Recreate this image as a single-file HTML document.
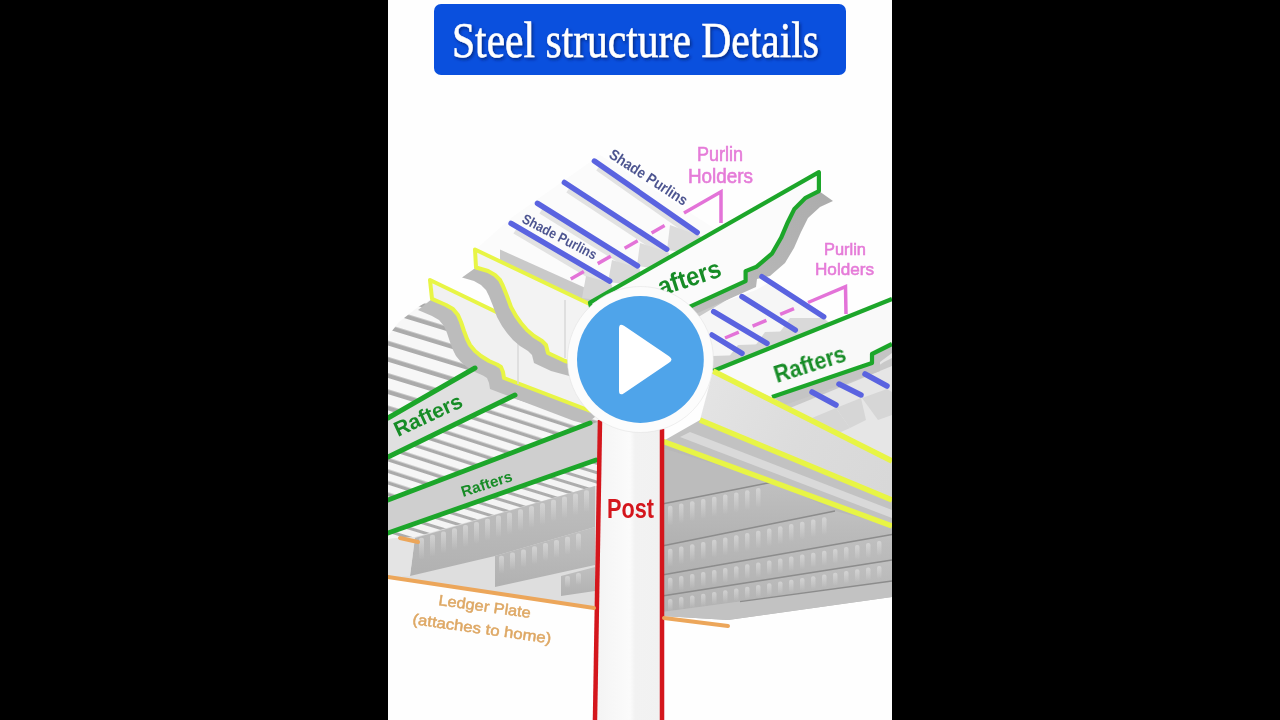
<!DOCTYPE html>
<html><head><meta charset="utf-8">
<style>
html,body{margin:0;padding:0;background:#000;width:1280px;height:720px;overflow:hidden;}
svg{display:block;}
text{font-family:"Liberation Sans",sans-serif;}
</style></head>
<body>
<svg width="1280" height="720" viewBox="0 0 1280 720">
<defs>
  <pattern id="stripesA" patternUnits="userSpaceOnUse" width="80" height="15.5" patternTransform="rotate(17)">
    <rect width="80" height="15.5" fill="#f7f7f7"/>
    <rect y="11" width="80" height="4.5" fill="#ababab"/>
  </pattern>
  <pattern id="stripesB" patternUnits="userSpaceOnUse" width="80" height="11" patternTransform="rotate(18)">
    <rect width="80" height="11" fill="#f6f6f6"/>
    <rect y="7.5" width="80" height="3.5" fill="#aaaaaa"/>
  </pattern>
  <pattern id="stripesC" patternUnits="userSpaceOnUse" width="80" height="9" patternTransform="rotate(17)">
    <rect width="80" height="9" fill="#f4f4f4"/>
    <rect y="6" width="80" height="3" fill="#adadad"/>
  </pattern>
  <linearGradient id="postg" x1="0" x2="1" y1="0" y2="0">
    <stop offset="0" stop-color="#f4f4f4"/>
    <stop offset="0.5" stop-color="#fbfbfb"/>
    <stop offset="0.58" stop-color="#f2f2f2"/>
    <stop offset="1" stop-color="#f1f1f1"/>
  </linearGradient>
  <linearGradient id="bandg" x1="0" x2="0" y1="0" y2="1">
    <stop offset="0" stop-color="#c0c0c0"/>
    <stop offset="1" stop-color="#b1b1b1"/>
  </linearGradient>
  <linearGradient id="raf1ext" x1="1" x2="0" y1="0" y2="1">
    <stop offset="0" stop-color="#acacac"/>
    <stop offset="0.5" stop-color="#b8b8b8"/>
    <stop offset="1" stop-color="#cacaca"/>
  </linearGradient>
  <filter id="tshadow" x="-10%" y="-30%" width="120%" height="160%">
    <feDropShadow dx="1.5" dy="2" stdDeviation="1.5" flood-color="#001a60" flood-opacity="0.7"/>
  </filter>
  <linearGradient id="streak" x1="0" x2="0" y1="0" y2="1">
    <stop offset="0" stop-color="#e2e2e2" stop-opacity="0.6"/>
    <stop offset="1" stop-color="#e6e6e6" stop-opacity="0"/>
  </linearGradient>
  <linearGradient id="beamtop" gradientUnits="userSpaceOnUse" x1="700" y1="400" x2="892" y2="480">
    <stop offset="0" stop-color="#e4e4e4"/>
    <stop offset="0.5" stop-color="#dcdcdc"/>
    <stop offset="1" stop-color="#d8d8d8"/>
  </linearGradient>
  <filter id="blur1" x="380" y="0" width="520" height="720" filterUnits="userSpaceOnUse"><feGaussianBlur stdDeviation="0.55"/></filter>
  <clipPath id="panel"><rect x="388" y="0" width="504" height="720"/></clipPath>
</defs>
<rect x="0" y="0" width="1280" height="720" fill="#000"/>
<rect x="388" y="0" width="504" height="720" fill="#fefefe"/>
<g clip-path="url(#panel)"><g filter="url(#blur1)">

<!-- ===== LEFT underside ===== -->
<polygon points="388,336 399,322 418,307 430,300 520,340 600,392 600,610 388,577" fill="url(#stripesA)"/>
<polygon points="388,457 515,395 600,430 600,470 388,540" fill="url(#stripesB)"/>
<polygon points="388,533 600,459 600,500 388,560" fill="url(#stripesC)"/>
<!-- lower gray underside bands near ledger -->
<polygon points="388,539 415,537 595,486 600,486 600,610 388,578" fill="#dedede"/>
<polygon points="415,538 595,486 595,527 495,556 410,576" fill="url(#bandg)"/>
<polygon points="495,556 595,527 595,565 495,587" fill="url(#bandg)"/>
<polygon points="561,576 595,567 595,591 561,596" fill="url(#bandg)"/>
<polygon points="388,539 415,537 410,576 388,577" fill="#e4e4e4"/>
<g fill="url(#streak)">
<rect x="419.0" y="537.8" width="5" height="22" rx="2"/>
<rect x="430.0" y="534.7" width="5" height="22" rx="2"/>
<rect x="441.0" y="531.5" width="5" height="22" rx="2"/>
<rect x="452.0" y="528.3" width="5" height="22" rx="2"/>
<rect x="463.0" y="525.1" width="5" height="22" rx="2"/>
<rect x="474.0" y="522.0" width="5" height="22" rx="2"/>
<rect x="485.0" y="518.8" width="5" height="22" rx="2"/>
<rect x="496.0" y="515.6" width="5" height="22" rx="2"/>
<rect x="507.0" y="512.4" width="5" height="22" rx="2"/>
<rect x="518.0" y="509.2" width="5" height="22" rx="2"/>
<rect x="529.0" y="506.1" width="5" height="22" rx="2"/>
<rect x="540.0" y="502.9" width="5" height="22" rx="2"/>
<rect x="551.0" y="499.7" width="5" height="22" rx="2"/>
<rect x="562.0" y="496.5" width="5" height="22" rx="2"/>
<rect x="573.0" y="493.4" width="5" height="22" rx="2"/>
<rect x="584.0" y="490.2" width="5" height="22" rx="2"/>
<rect x="499.0" y="555.8" width="5" height="18" rx="2"/>
<rect x="510.0" y="552.6" width="5" height="18" rx="2"/>
<rect x="521.0" y="549.5" width="5" height="18" rx="2"/>
<rect x="532.0" y="546.3" width="5" height="18" rx="2"/>
<rect x="543.0" y="543.1" width="5" height="18" rx="2"/>
<rect x="554.0" y="539.9" width="5" height="18" rx="2"/>
<rect x="565.0" y="536.7" width="5" height="18" rx="2"/>
<rect x="576.0" y="533.5" width="5" height="18" rx="2"/>
<rect x="565.0" y="575.9" width="5" height="12" rx="2"/>
<rect x="576.0" y="573.0" width="5" height="12" rx="2"/>
</g>

<!-- rafter faces left -->
<polygon points="388,418 478,366 518,392 388,457" fill="#e0e0e0"/>
<polygon points="388,500 600,421 600,458 388,533" fill="#cfcfcf"/>

<!-- ===== Upper purlins zone A ===== -->
<polygon points="475,250 511,218 600,155 720,232 590,305" fill="#fbfbfb"/>
<polygon points="500,249.5 590,290 600,309 500,261.7" fill="#c9c9c9"/>
<g stroke="#e2e2e2" stroke-width="6" fill="none">
  <line x1="598" y1="168" x2="699" y2="239"/>
  <line x1="568" y1="190" x2="668" y2="256"/>
  <line x1="541" y1="211" x2="639" y2="272"/>
  <line x1="515" y1="231" x2="611" y2="288"/>
</g>
<polygon points="670,225 700,236 704,245 682,252 667,250" fill="#dcdcdc"/>
<polygon points="640,243 668,252 672,262 652,268 637,266" fill="#dcdcdc"/>
<polygon points="612,260 639,268 643,279 624,284 608,282" fill="#d9d9d9"/>
<polygon points="586,276 611,283 614,294 596,300 582,298" fill="#d6d6d6"/>

<!-- ===== Beam ends (left) ===== -->
<polygon points="432,298.9 446,305 453,309 458,315 461,322 464,331 467,339 470,345 475,351 481,356 489,361 497,364.5 501,367 503,372 504,378 588,410 600,413 586,424 574,421 490,389 489,383 487,378 483,375.5 475,372 467,367 461,362 456,356 453,350 450,342 447,333 444,326 439,320 432,316 418,309.9" fill="#bcbcbc"/>
<polygon points="430,280 600,362 600,413 588,410 504,378 503,372 501,367 497,364.5 489,361 481,356 475,351 470,345 467,339 464,331 461,322 458,315 453,309 446,305 432,298.9" fill="#f1f1f1" stroke="#e8f545" stroke-width="4" stroke-linejoin="round"/>
<line x1="518" y1="342" x2="518" y2="384" stroke="#d8d8d8" stroke-width="1.5"/>
<polygon points="476,267.5 488,271 495,275 500,280 503,286 507,296 511,307 516,316 521,323 527,330 534,336 542,341 546,345 548,353 565,361 587,367 600,375 586,385 573,377 551,371 534,363 532,355 528,351 520,346 513,340 507,333 502,326 497,317 493,306 489,296 486,290 481,285 474,281 462,277.5" fill="#bababa"/>
<polygon points="475,249.5 600,309 600,375 587,367 565,361 548,353 546,345 542,341 534,336 527,330 521,323 516,316 511,307 507,296 503,286 500,280 495,275 488,271 476,267.5" fill="#f3f3f3" stroke="#e8f545" stroke-width="4" stroke-linejoin="round"/>
<line x1="565" y1="300" x2="565" y2="358" stroke="#d8d8d8" stroke-width="1.5"/>

<!-- ===== Zone C (purlins between rafter1 and rafter2) ===== -->
<polygon points="600,348 756,290 770,282 830,322 846,316 892,299 713,371 660,395" fill="#f6f6f6"/>
<polygon points="600,348 690,307 745.6,281.1 752,285 700,316 610,356" fill="#c9c9c9"/>
<polygon points="790,318 824,318 832,326 800,338 780,332" fill="#d9d9d9"/>
<polygon points="765,332 796,331 804,340 772,352 755,346" fill="#d7d7d7"/>
<polygon points="738,345 768,344 776,353 746,364 728,358" fill="#d5d5d5"/>
<polygon points="712,356 742,355 748,364 722,372 704,368" fill="#d3d3d3"/>
<!-- Zone E under rafter 2 -->
<polygon points="713,371 772,397 872,363 892,352 892,461" fill="#e6e6e6"/>
<polygon points="780,402 872,370 884,362 892,358 892,366 790,408" fill="#c9c9c9"/>
<polygon points="836,408 861,398 866,420 850,428" fill="#d6d6d6"/>
<polygon points="862,398 887,389 892,392 892,415 878,420" fill="#d6d6d6"/>
<polygon points="812,418 836,408 850,428 832,436" fill="#d6d6d6"/>

<!-- ===== Rafter 1 ===== -->
<polygon points="818.9,191.1 805.6,197.8 794.4,208.9 787.8,222.2 781.1,237.8 772.2,253.3 756.7,266.7 745.6,271.1 745.6,281.1 690,306.7 600,348 602,355 700,312 756,287 757,279 770,276 785,263 794,248 801,232 808,218 820,207 833,201" fill="url(#raf1ext)"/>
<polygon points="818.9,172.2 818.9,191.1 805.6,197.8 794.4,208.9 787.8,222.2 781.1,237.8 772.2,253.3 756.7,266.7 745.6,271.1 745.6,281.1 690,306.7 600,348 590,302.5" fill="#fbfbfb" stroke="#1ea62a" stroke-width="4.2" stroke-linejoin="round"/>

<!-- ===== Rafter 2 ===== -->
<polygon points="772,397 872,363 872,354 892,344 892,353 880,362 880,371 785,405" fill="#c4c4c4"/>
<polygon points="713,371 892,299 892,344 872,354 872,363 772,397" fill="#f9f9f9"/>
<polyline points="713,371 892,299" fill="none" stroke="#1ea62a" stroke-width="4.2"/>
<polyline points="892,344 872,354 872,363 772,397" fill="none" stroke="#1ea62a" stroke-width="4.2" stroke-linejoin="round"/>

<!-- ===== Beam sides right ===== -->
<polygon points="713,371 892,461 892,500 700,420" fill="url(#beamtop)"/>
<polygon points="700,420 892,500 892,527 665,440" fill="#c2c2c2"/>
<polygon points="690,432 892,510 892,518 680,437" fill="#d9d9d9"/>

<!-- ===== RIGHT underside ===== -->
<polygon points="662,441 892,526 892,597 728,620 662,616" fill="#b8b8b8"/>
<polygon points="662,448 773,482 662,504" fill="#bcbcbc"/>
<polygon points="662,504 773,482 835,511 662,546" fill="url(#bandg)"/>
<polygon points="662,546 835,511 892,526 892,534.5 662,575" fill="url(#bandg)"/>
<polygon points="662,575 892,534.5 892,560 662,596" fill="url(#bandg)"/>
<polygon points="662,596 892,560 892,581 662,612" fill="url(#bandg)"/>
<polygon points="662,612 892,581 892,597 728,620 662,616" fill="#c2c2c2"/>
<g fill="url(#streak)">
<rect x="668.0" y="505.7" width="4.5" height="20" rx="2"/>
<rect x="679.0" y="503.5" width="4.5" height="20" rx="2"/>
<rect x="690.0" y="501.3" width="4.5" height="20" rx="2"/>
<rect x="701.0" y="499.0" width="4.5" height="20" rx="2"/>
<rect x="712.0" y="496.8" width="4.5" height="20" rx="2"/>
<rect x="723.0" y="494.6" width="4.5" height="20" rx="2"/>
<rect x="734.0" y="492.4" width="4.5" height="20" rx="2"/>
<rect x="745.0" y="490.2" width="4.5" height="20" rx="2"/>
<rect x="756.0" y="487.9" width="4.5" height="20" rx="2"/>
<rect x="668.0" y="548.7" width="4.5" height="18" rx="2"/>
<rect x="679.0" y="546.4" width="4.5" height="18" rx="2"/>
<rect x="690.0" y="544.2" width="4.5" height="18" rx="2"/>
<rect x="701.0" y="541.9" width="4.5" height="18" rx="2"/>
<rect x="712.0" y="539.7" width="4.5" height="18" rx="2"/>
<rect x="723.0" y="537.4" width="4.5" height="18" rx="2"/>
<rect x="734.0" y="535.2" width="4.5" height="18" rx="2"/>
<rect x="745.0" y="532.9" width="4.5" height="18" rx="2"/>
<rect x="756.0" y="530.7" width="4.5" height="18" rx="2"/>
<rect x="767.0" y="528.4" width="4.5" height="18" rx="2"/>
<rect x="778.0" y="526.2" width="4.5" height="18" rx="2"/>
<rect x="789.0" y="523.9" width="4.5" height="18" rx="2"/>
<rect x="800.0" y="521.7" width="4.5" height="18" rx="2"/>
<rect x="811.0" y="519.4" width="4.5" height="18" rx="2"/>
<rect x="822.0" y="517.2" width="4.5" height="18" rx="2"/>
<rect x="668.0" y="577.8" width="4.5" height="15" rx="2"/>
<rect x="679.0" y="575.9" width="4.5" height="15" rx="2"/>
<rect x="690.0" y="573.9" width="4.5" height="15" rx="2"/>
<rect x="701.0" y="572.0" width="4.5" height="15" rx="2"/>
<rect x="712.0" y="570.1" width="4.5" height="15" rx="2"/>
<rect x="723.0" y="568.1" width="4.5" height="15" rx="2"/>
<rect x="734.0" y="566.2" width="4.5" height="15" rx="2"/>
<rect x="745.0" y="564.3" width="4.5" height="15" rx="2"/>
<rect x="756.0" y="562.4" width="4.5" height="15" rx="2"/>
<rect x="767.0" y="560.4" width="4.5" height="15" rx="2"/>
<rect x="778.0" y="558.5" width="4.5" height="15" rx="2"/>
<rect x="789.0" y="556.6" width="4.5" height="15" rx="2"/>
<rect x="800.0" y="554.6" width="4.5" height="15" rx="2"/>
<rect x="811.0" y="552.7" width="4.5" height="15" rx="2"/>
<rect x="822.0" y="550.8" width="4.5" height="15" rx="2"/>
<rect x="833.0" y="548.9" width="4.5" height="15" rx="2"/>
<rect x="844.0" y="546.9" width="4.5" height="15" rx="2"/>
<rect x="855.0" y="545.0" width="4.5" height="15" rx="2"/>
<rect x="866.0" y="543.1" width="4.5" height="15" rx="2"/>
<rect x="877.0" y="541.1" width="4.5" height="15" rx="2"/>
<rect x="668.0" y="598.9" width="4.5" height="13" rx="2"/>
<rect x="679.0" y="597.1" width="4.5" height="13" rx="2"/>
<rect x="690.0" y="595.4" width="4.5" height="13" rx="2"/>
<rect x="701.0" y="593.7" width="4.5" height="13" rx="2"/>
<rect x="712.0" y="591.9" width="4.5" height="13" rx="2"/>
<rect x="723.0" y="590.2" width="4.5" height="13" rx="2"/>
<rect x="734.0" y="588.4" width="4.5" height="13" rx="2"/>
<rect x="745.0" y="586.7" width="4.5" height="13" rx="2"/>
<rect x="756.0" y="585.0" width="4.5" height="13" rx="2"/>
<rect x="767.0" y="583.2" width="4.5" height="13" rx="2"/>
<rect x="778.0" y="581.5" width="4.5" height="13" rx="2"/>
<rect x="789.0" y="579.8" width="4.5" height="13" rx="2"/>
<rect x="800.0" y="578.0" width="4.5" height="13" rx="2"/>
<rect x="811.0" y="576.3" width="4.5" height="13" rx="2"/>
<rect x="822.0" y="574.6" width="4.5" height="13" rx="2"/>
<rect x="833.0" y="572.8" width="4.5" height="13" rx="2"/>
<rect x="844.0" y="571.1" width="4.5" height="13" rx="2"/>
<rect x="855.0" y="569.3" width="4.5" height="13" rx="2"/>
<rect x="866.0" y="567.6" width="4.5" height="13" rx="2"/>
<rect x="877.0" y="565.9" width="4.5" height="13" rx="2"/>
</g>
<g stroke="#8c8c8c" stroke-width="1.3" fill="none">
  <line x1="662" y1="504" x2="773" y2="482"/>
  <line x1="662" y1="546" x2="835" y2="511"/>
  <line x1="662" y1="575" x2="892" y2="534.5"/>
  <line x1="662" y1="596" x2="892" y2="560"/>
  <line x1="740" y1="601.6" x2="892" y2="581"/>
</g>

<!-- Left green rafter lines -->
<g stroke="#1ea62a" stroke-width="5" stroke-linecap="round">
  <line x1="388" y1="418" x2="475" y2="368"/>
  <line x1="388" y1="457" x2="515" y2="395"/>
  <line x1="388" y1="500" x2="590" y2="423"/>
  <line x1="388" y1="533" x2="596" y2="460"/>
</g>
<!-- yellow right lines -->
<g stroke="#e8f545" stroke-width="5.5">
  <line x1="713" y1="371" x2="892" y2="461"/>
  <line x1="700" y1="420" x2="892" y2="500"/>
  <line x1="662" y1="441" x2="892" y2="526"/>
</g>

<!-- blue purlins -->
<g stroke="#5a64e0" stroke-width="5.5" stroke-linecap="round">
  <line x1="594.4" y1="161.1" x2="697.2" y2="232.5"/>
  <line x1="564.4" y1="182.5" x2="666.7" y2="249.2"/>
  <line x1="537.5" y1="203.3" x2="637.5" y2="265.8"/>
  <line x1="511.1" y1="223.3" x2="609.7" y2="281.1"/>
  <line x1="762" y1="276.7" x2="823.7" y2="316.7"/>
  <line x1="742" y1="296.7" x2="795.3" y2="330"/>
  <line x1="713.7" y1="311.7" x2="767" y2="343.3"/>
  <line x1="712" y1="335" x2="742" y2="353.3"/>
  <line x1="812" y1="392" x2="836" y2="405"/>
  <line x1="839" y1="384" x2="861" y2="395"/>
  <line x1="865" y1="374" x2="887" y2="386"/>
</g>
<!-- pink holders -->
<g stroke="#e373d8" stroke-width="3.5" fill="none">
  <path d="M570.8,279 L676,219" stroke-dasharray="15,16"/>
  <path d="M684,213 L721,191.7 L721,223"/>
  <path d="M725,338 L800,306" stroke-dasharray="15,15"/>
  <path d="M808,302.5 L845.5,286.7 L846,314"/>
</g>

<!-- ===== Post ===== -->
<rect x="598" y="420" width="64" height="300" fill="url(#postg)"/>
<line x1="600" y1="420" x2="595" y2="720" stroke="#d4141c" stroke-width="4.5"/>
<line x1="662" y1="429" x2="662" y2="720" stroke="#d4141c" stroke-width="4.5"/>
<text x="607" y="518" font-weight="bold" font-size="27" fill="#d4141c" textLength="47" lengthAdjust="spacingAndGlyphs">Post</text>

<!-- ledger -->
<g stroke="#eca65a" stroke-width="4" stroke-linecap="round">
  <line x1="388" y1="577" x2="594" y2="608"/>
  <line x1="664" y1="618" x2="728" y2="626"/>
  <line x1="400" y1="538" x2="418" y2="542"/>
</g>

<!-- labels -->
<g font-weight="bold" fill="#188c27">
  <text transform="translate(398,437) rotate(-25)" font-size="21" textLength="73" lengthAdjust="spacingAndGlyphs">Rafters</text>
  <text transform="translate(463,497) rotate(-18)" font-size="15" textLength="53" lengthAdjust="spacingAndGlyphs">Rafters</text>
  <text transform="translate(777,383) rotate(-17.5)" font-size="23" textLength="74" lengthAdjust="spacingAndGlyphs">Rafters</text>
  <text transform="translate(661,296) rotate(-18)" font-size="26" textLength="65" lengthAdjust="spacingAndGlyphs">afters</text>
</g>
<g fill="#4d5590" font-weight="bold">
  <text transform="translate(608,157) rotate(33)" font-size="15" textLength="90" lengthAdjust="spacingAndGlyphs">Shade Purlins</text>
  <text transform="translate(521,222) rotate(27.5)" font-size="14" textLength="82" lengthAdjust="spacingAndGlyphs">Shade Purlins</text>
</g>
<g fill="#e57bd8" stroke="#e57bd8" stroke-width="0.6">
  <text x="697" y="161" font-size="20" textLength="46" lengthAdjust="spacingAndGlyphs">Purlin</text>
  <text x="688" y="182.5" font-size="20" textLength="65" lengthAdjust="spacingAndGlyphs">Holders</text>
  <text x="824" y="255" font-size="17" textLength="42" lengthAdjust="spacingAndGlyphs">Purlin</text>
  <text x="815" y="275" font-size="17" textLength="59" lengthAdjust="spacingAndGlyphs">Holders</text>
</g>
<g fill="#dea865" stroke="#dea865" stroke-width="0.5" font-size="15">
  <text transform="translate(438,605) rotate(8)" textLength="93" lengthAdjust="spacingAndGlyphs">Ledger Plate</text>
  <text transform="translate(412,624) rotate(8)" textLength="140" lengthAdjust="spacingAndGlyphs">(attaches to home)</text>
</g>

<!-- Play button -->
<circle cx="640.4" cy="359.5" r="73" fill="#fcfcfc" stroke="#e0e0e0" stroke-opacity="0.5" stroke-width="1"/>
<circle cx="640.4" cy="359.5" r="63.4" fill="#4fa4ea"/>
<path d="M619,328.5 Q619,322.5 624,325.85 L669,356.15 Q674,359.5 669,362.85 L624,393.15 Q619,396.5 619,390.5 Z" fill="#fff"/>

</g></g>
<!-- Title -->
<rect x="434" y="4" width="412" height="71" rx="7" fill="#0a50de"/>
<text x="452" y="57" font-size="50" fill="#fff" stroke="#fff" stroke-width="0.5" textLength="367" lengthAdjust="spacingAndGlyphs" filter="url(#tshadow)" style="font-family:'Liberation Serif',serif">Steel structure Details</text>
</svg>
</body></html>
